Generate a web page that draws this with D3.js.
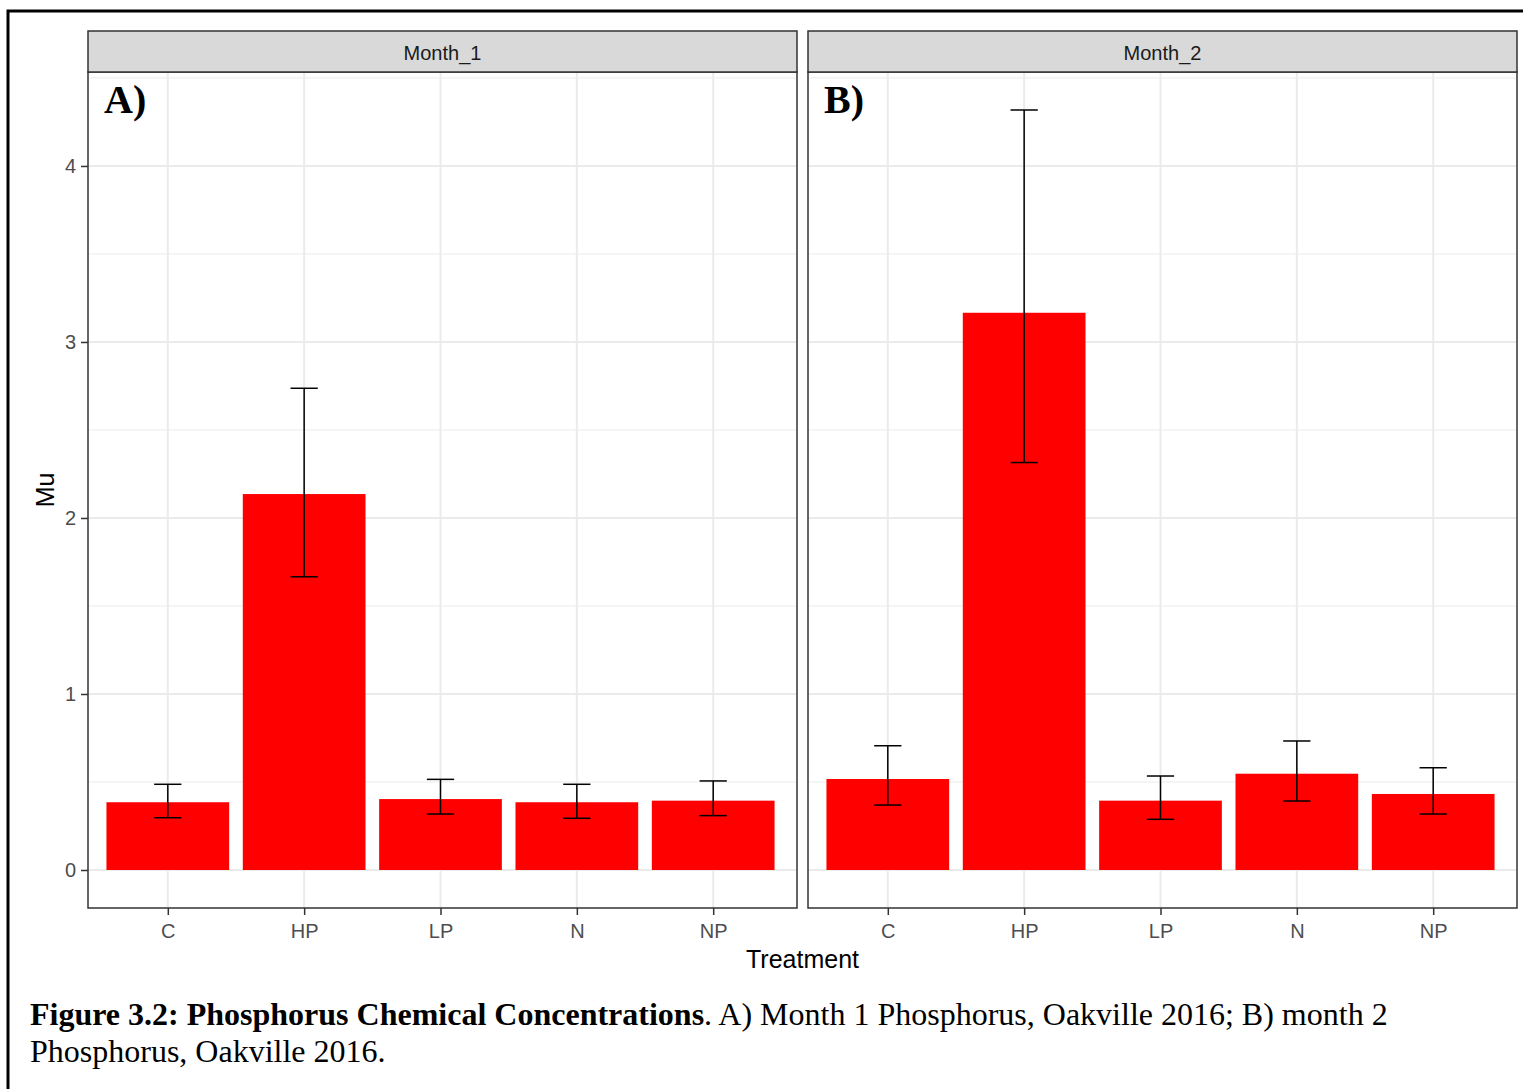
<!DOCTYPE html>
<html>
<head>
<meta charset="utf-8">
<script src="https://cdn.jsdelivr.net/npm/d3@7"></script>
<style>
  body { margin: 0; background: white; }
  svg { display: block; }
</style>
</head>
<body>
<div id="chart"></div>
<script>
// data
const treatments = ["C", "HP", "LP", "N", "NP"];
const months = ["Month_1", "Month_2"];
const panelTags = ["A)", "B)"];
const mu_month1 = [0.385, 2.136, 0.403, 0.385, 0.394];
const lo_month1 = [0.297, 1.666, 0.318, 0.294, 0.309];
const hi_month1 = [0.487, 2.737, 0.515, 0.487, 0.506];
const mu_month2 = [0.517, 3.166, 0.394, 0.547, 0.432];
const lo_month2 = [0.369, 2.315, 0.288, 0.392, 0.318];
const hi_month2 = [0.706, 4.318, 0.534, 0.733, 0.581];
const yTicks = [0, 1, 2, 3, 4];
const yMinor = [0.5, 1.5, 2.5, 3.5, 4.5];

function draw() {
    const svgwidth = 1523;
    const svgheight = 1089;
    const panelTop = 72, panelBottom = 908;
    const stripTop = 31;
    const panels = [{x0: 88, x1: 797}, {x0: 808, x1: 1517}];
    const tick_color = "#4d4d4d";
    const grid_color = "#ebebeb";
    const border_color = "#333333";
    const sans = "Liberation Sans, Arial, sans-serif";
    const serif = "Liberation Serif, Times New Roman, serif";

    // ggplot-style expansion of the y range
    let ymax = d3.max(hi_month1.concat(hi_month2));
    let pad = 0.05 * ymax;
    let yScale = d3.scaleLinear()
        .domain([0 - pad, ymax + pad])
        .range([panelBottom, panelTop]);

    let svg = d3.select("#chart").append("svg")
        .attr("width", svgwidth)
        .attr("height", svgheight);

    // outer figure frame
    svg.append("rect")
        .attr("x", 8).attr("y", 11)
        .attr("width", 1540).attr("height", 1100)
        .style("fill", "white")
        .style("stroke", "black")
        .style("stroke-width", 3);

    let series = [
        {mu: mu_month1, lo: lo_month1, hi: hi_month1},
        {mu: mu_month2, lo: lo_month2, hi: hi_month2}
    ];

    panels.forEach((p, i) => {
        // categories sit slightly left of the exact centre in the source
        let xScale = d3.scalePoint()
            .domain(treatments)
            .range([p.x0 - 2, p.x1 - 2])
            .padding(0.6);
        let step = xScale.step();
        let g = svg.append("g").attr("class", "panel");

        // background grid
        g.selectAll(".minor").data(yMinor).enter().append("line")
            .attr("x1", p.x0).attr("x2", p.x1)
            .attr("y1", d => yScale(d)).attr("y2", d => yScale(d))
            .style("stroke", grid_color).style("stroke-width", 1);
        g.selectAll(".major").data(yTicks).enter().append("line")
            .attr("x1", p.x0).attr("x2", p.x1)
            .attr("y1", d => yScale(d)).attr("y2", d => yScale(d))
            .style("stroke", grid_color).style("stroke-width", 2);
        g.selectAll(".vgrid").data(treatments).enter().append("line")
            .attr("x1", d => xScale(d)).attr("x2", d => xScale(d))
            .attr("y1", panelTop).attr("y2", panelBottom)
            .style("stroke", grid_color).style("stroke-width", 2);

        // bars
        let s = series[i];
        let rows = treatments.map((t, k) => ({t: t, mu: s.mu[k], lo: s.lo[k], hi: s.hi[k]}));
        g.selectAll("rect.bar").data(rows).enter().append("rect")
            .attr("class", "bar")
            .attr("x", d => xScale(d.t) - step * 0.45)
            .attr("width", step * 0.9)
            .attr("y", d => yScale(d.mu))
            .attr("height", d => yScale(0) - yScale(d.mu))
            .style("fill", "#ff0000");

        // error bars
        let eb = g.selectAll("g.err").data(rows).enter().append("g")
            .attr("class", "err")
            .style("stroke", "black").style("stroke-width", 1.5);
        eb.append("line")
            .attr("x1", d => xScale(d.t)).attr("x2", d => xScale(d.t))
            .attr("y1", d => yScale(d.lo)).attr("y2", d => yScale(d.hi));
        eb.append("line")
            .attr("x1", d => xScale(d.t) - step * 0.1).attr("x2", d => xScale(d.t) + step * 0.1)
            .attr("y1", d => yScale(d.hi)).attr("y2", d => yScale(d.hi));
        eb.append("line")
            .attr("x1", d => xScale(d.t) - step * 0.1).attr("x2", d => xScale(d.t) + step * 0.1)
            .attr("y1", d => yScale(d.lo)).attr("y2", d => yScale(d.lo));

        // panel border
        g.append("rect")
            .attr("x", p.x0).attr("y", panelTop)
            .attr("width", p.x1 - p.x0).attr("height", panelBottom - panelTop)
            .style("fill", "none").style("stroke", border_color).style("stroke-width", 1.5);

        // facet strip
        g.append("rect")
            .attr("x", p.x0).attr("y", stripTop)
            .attr("width", p.x1 - p.x0).attr("height", panelTop - stripTop)
            .style("fill", "#d9d9d9").style("stroke", border_color).style("stroke-width", 1.5);
        g.append("text")
            .text(months[i])
            .attr("x", (p.x0 + p.x1) / 2)
            .attr("y", stripTop + 29)
            .attr("text-anchor", "middle")
            .style("font-family", sans).style("font-size", "20px").style("fill", "#1a1a1a");

        // panel tag
        g.append("text")
            .text(panelTags[i])
            .attr("x", p.x0 + 16)
            .attr("y", 113)
            .style("font-family", serif).style("font-weight", "bold")
            .style("font-size", "40px").style("fill", "black");

        // x axis
        let xAxis = d3.axisBottom(xScale).tickSize(7).tickPadding(9);
        let xa = g.append("g")
            .attr("transform", `translate(0,${panelBottom})`)
            .call(xAxis);
        xa.select(".domain").remove();
        xa.selectAll("line").style("stroke", border_color).style("stroke-width", 1.5);
        xa.selectAll("text")
            .style("font-family", sans).style("font-size", "20px").style("fill", tick_color);

        // y axis on first panel only
        if (i === 0) {
            let yAxis = d3.axisLeft(yScale).tickValues(yTicks).tickFormat(d3.format("d"))
                .tickSize(7).tickPadding(5);
            let ya = g.append("g")
                .attr("transform", `translate(${p.x0},0)`)
                .call(yAxis);
            ya.select(".domain").remove();
            ya.selectAll("line").style("stroke", border_color).style("stroke-width", 1.5);
            ya.selectAll("text")
                .style("font-family", sans).style("font-size", "20px").style("fill", tick_color);
        }
    });

    // axis titles
    svg.append("text")
        .text("Treatment")
        .attr("x", (panels[0].x0 + panels[1].x1) / 2)
        .attr("y", 968)
        .attr("text-anchor", "middle")
        .style("font-family", sans).style("font-size", "25px").style("fill", "black");
    svg.append("text")
        .text("Mu")
        .attr("transform", `translate(54, ${(panelTop + panelBottom) / 2}) rotate(-90)`)
        .attr("text-anchor", "middle")
        .style("font-family", sans).style("font-size", "25px").style("fill", "black");

    // caption
    let cap = svg.append("text")
        .attr("x", 30).attr("y", 1025)
        .style("font-family", serif).style("font-size", "32px").style("fill", "black");
    cap.append("tspan").text("Figure 3.2: Phosphorus Chemical Concentrations").style("font-weight", "bold");
    cap.append("tspan").text(". A) Month 1 Phosphorus, Oakville 2016; B) month 2");
    svg.append("text")
        .text("Phosphorus, Oakville 2016.")
        .attr("x", 30).attr("y", 1062)
        .style("font-family", serif).style("font-size", "32px").style("fill", "black");
}

draw();
</script>
</body>
</html>
